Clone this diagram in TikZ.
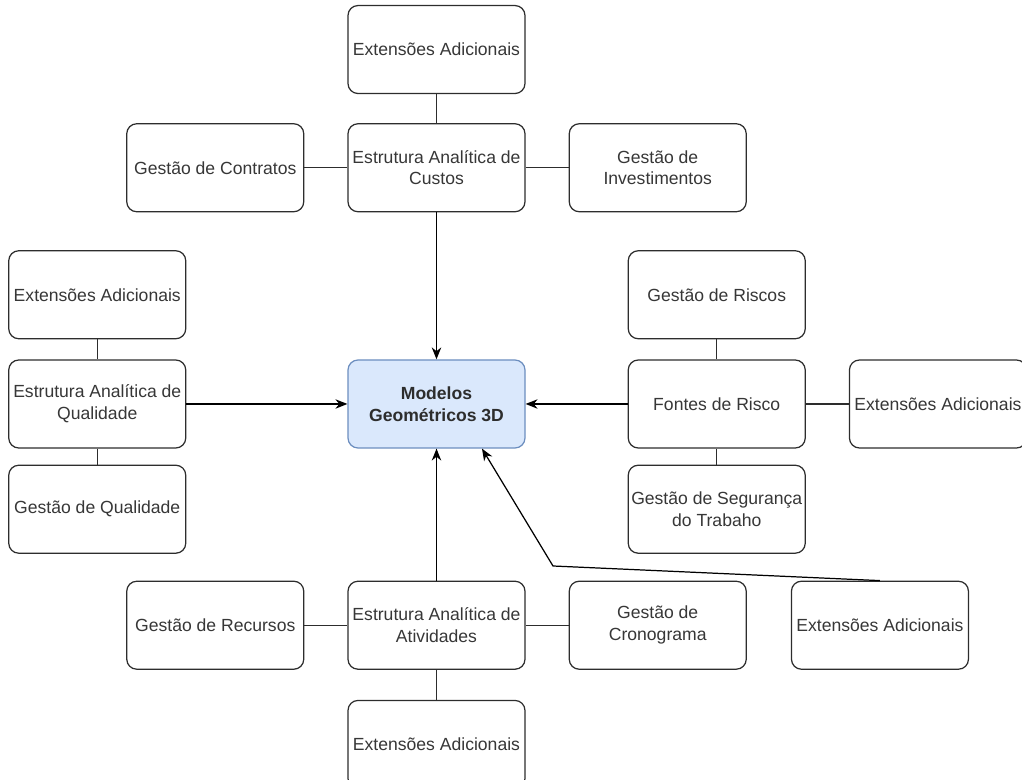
\documentclass[tikz,border=0pt]{standalone}
\usepackage{fontspec}
\newfontfamily\diagfont{Liberation Sans}
\usepackage{tikz}
\usetikzlibrary{arrows.meta,positioning,calc}
\usepackage{xcolor}
\definecolor{inkgray}{RGB}{45,45,45}
\definecolor{txtgray}{RGB}{55,55,55}
\definecolor{modelfill}{RGB}{218,232,252}
\definecolor{modeldraw}{RGB}{108,142,191}
\tikzset{
  block/.style={rectangle, rounded corners=2mm, draw=inkgray, line width=0.7pt, fill=white,
                minimum width=35.4mm, minimum height=17.6mm, inner sep=1pt, align=center,
                text=txtgray, font=\diagfont\fontsize{10}{12.3}\selectfont},
  blockblue/.style={block, fill=modelfill, draw=modeldraw, text=inkgray,
                font=\diagfont\bfseries\fontsize{10}{12.3}\selectfont},
  link/.style={line width=0.7pt, inkgray},
  arrow/.style={-{Stealth[length=2.4mm, width=1.9mm]}, line width=0.7pt, black},
}
\begin{document}
\begin{tikzpicture}[node distance=8.6mm]
\node[blockblue] (model) {Modelos\\Geométricos 3D};
\useasboundingbox ([shift={(-87.3mm,-75.2mm)}]model.center) rectangle ([shift={(117.1mm,80.8mm)}]model.center);
% custos
\node[block, above=29.4mm of model] (eac) {Estrutura Analítica de\\Custos};
\node[block, above=5.8mm of eac] (extc) {Extensões Adicionais};
\node[block, left=of eac] (contr) {Gestão de Contratos};
\node[block, right=of eac] (invest) {Gestão de\\Investimentos};
% qualidade
\node[block, left=32.2mm of model] (eaq) {Estrutura Analítica de\\Qualidade};
\node[block, above=4mm of eaq] (extq) {Extensões Adicionais};
\node[block, below=3.2mm of eaq] (gq) {Gestão de Qualidade};
% riscos
\node[block, right=20.4mm of model] (fontes) {Fontes de Risco};
\node[block, above=4mm of fontes] (riscos) {Gestão de Riscos};
\node[block, below=3.2mm of fontes] (seg) {Gestão de Segurança\\do Trabaho};
\node[block, right=of fontes] (extf) {Extensões Adicionais};
% atividades
\node[block, below=26.4mm of model] (eaa) {Estrutura Analítica de\\Atividades};
\node[block, below=6mm of eaa] (exta) {Extensões Adicionais};
\node[block, left=of eaa] (recur) {Gestão de Recursos};
\node[block, right=of eaa] (crono) {Gestão de\\Cronograma};
\node[block, right=8.8mm of crono] (extx) {Extensões Adicionais};
\coordinate (bend) at ([shift={(23.3mm,-32.4mm)}]model.center);

\foreach \a/\b in {extc/eac, contr/eac, eac/invest, extq/eaq, eaq/gq,
                   riscos/fontes, fontes/seg, fontes/extf,
                   recur/eaa, eaa/crono, eaa/exta}
  \draw[link] (\a) -- (\b);
\foreach \a in {eac, eaq, fontes, eaa}
  \draw[arrow] (\a) -- (model);
\draw[arrow] (extx.north) -- (bend) -- ([xshift=9.1mm]model.south);
\end{tikzpicture}
\end{document}
